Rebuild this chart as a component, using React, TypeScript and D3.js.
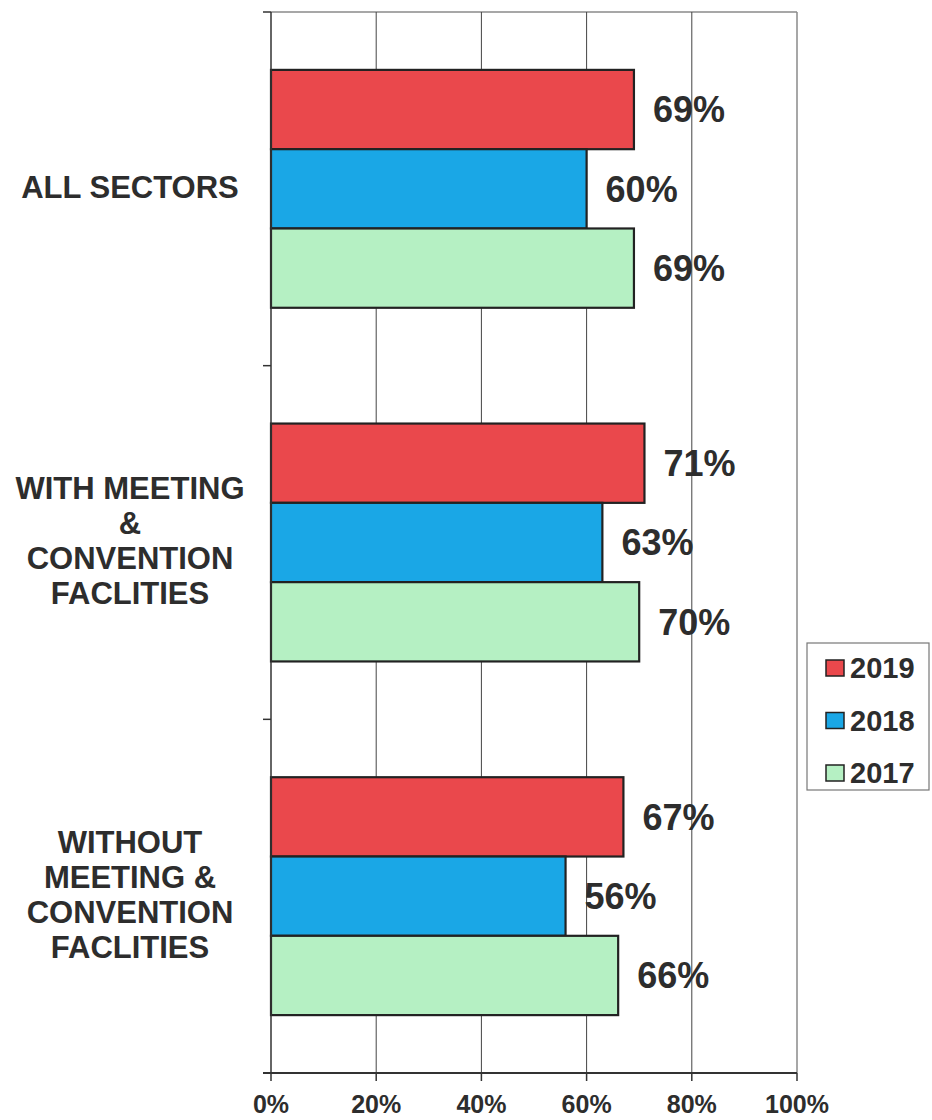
import React from "react";
import * as d3 from "d3";

const categories = [
  ["ALL SECTORS"],
  ["WITH MEETING", "&", "CONVENTION", "FACLITIES"],
  ["WITHOUT", "MEETING &", "CONVENTION", "FACLITIES"],
];
const categoryKeys = ["all", "with", "without"];
const seriesNames = ["2019", "2018", "2017"];
const values2019 = [69, 71, 67];
const values2018 = [60, 63, 56];
const values2017 = [69, 70, 66];
const xTicks = [0, 20, 40, 60, 80, 100];
const colors = ["#EA484C", "#1AA7E6", "#B5F0C3"];

export default function App() {
  const W = 932, H = 1120;
  const left = 271, right = 797, top = 12, bottom = 1073;
  const x = d3.scaleLinear().domain([0, 100]).range([left, right]);
  const y = d3.scaleBand<string>().domain(categoryKeys).range([top, bottom]).paddingInner(0).paddingOuter(0);
  const inner = d3.scaleBand<string>().domain(seriesNames).range([0, y.bandwidth()]).paddingInner(0).paddingOuter(0.73);
  const series = [values2019, values2018, values2017];
  const font = "Arial, 'Liberation Sans', Helvetica, sans-serif";
  const txt = "#2d2d2d";
  return (
    <svg width={W} height={H} style={{ position: "absolute", left: 0, top: 0, background: "#fff" }} fontFamily={font}>
      <rect x={0} y={0} width={W} height={H} fill="#fff" />
      {/* plot border */}
      <line x1={left} x2={right} y1={top} y2={top} stroke="#8a8a8a" strokeWidth={1.5} />
      <line x1={right} x2={right} y1={top} y2={bottom} stroke="#8a8a8a" strokeWidth={1.5} />
      {/* gridlines */}
      {xTicks.slice(1, -1).map((t) => (
        <line key={t} x1={x(t)} x2={x(t)} y1={top} y2={bottom} stroke="#444" strokeWidth={1} />
      ))}
      {/* bars */}
      {categoryKeys.map((c, ci) =>
        seriesNames.map((s, si) => {
          const v = series[si][ci];
          const by = (y(c) as number) + (inner(s) as number);
          const bh = inner.bandwidth();
          return (
            <g key={c + s}>
              <rect x={x(0)} y={by} width={x(v) - x(0)} height={bh} fill={colors[si]} stroke="#222" strokeWidth={2.2} />
              <text x={x(v) + 19} y={by + bh / 2} dy="0.36em" fontSize={36} fontWeight="bold" fill={txt}>
                {v}%
              </text>
            </g>
          );
        })
      )}
      {/* axes */}
      <line x1={left} x2={left} y1={top} y2={bottom} stroke="#333" strokeWidth={1.5} />
      <line x1={left - 8} x2={right} y1={bottom} y2={bottom} stroke="#333" strokeWidth={1.8} />
      {[top, ...categoryKeys.map((c) => (y(c) as number) + y.bandwidth())].map((yy, i) => (
        <line key={i} x1={left - 8} x2={left} y1={yy} y2={yy} stroke="#333" strokeWidth={1.5} />
      ))}
      {xTicks.map((t) => (
        <g key={t}>
          <line x1={x(t)} x2={x(t)} y1={bottom} y2={bottom + 8} stroke="#333" strokeWidth={1.5} />
          <text x={x(t)} y={bottom + 31} dy="0.36em" textAnchor="middle" fontSize={25} fontWeight="bold" fill={txt}>
            {t}%
          </text>
        </g>
      ))}
      {/* category labels */}
      {categoryKeys.map((c, ci) => {
        const lines = categories[ci];
        const cy = (y(c) as number) + y.bandwidth() / 2 - 2;
        const lh = 35;
        return (
          <text key={c} textAnchor="middle" fontSize={31} fontWeight="bold" fill={txt}>
            {lines.map((l, li) => (
              <tspan key={li} x={130} y={cy + (li - (lines.length - 1) / 2) * lh} dy="0.36em">
                {l}
              </tspan>
            ))}
          </text>
        );
      })}
      {/* legend */}
      <rect x={807} y={643} width={122} height={147} fill="#fff" stroke="#777" strokeWidth={1.2} />
      {seriesNames.map((s, si) => {
        const ly = 668 + si * 52.5;
        return (
          <g key={s}>
            <rect x={826} y={ly - 8} width={18} height={16} fill={colors[si]} stroke="#222" strokeWidth={1.5} />
            <text x={850} y={ly} dy="0.36em" fontSize={29} fontWeight="bold" fill={txt}>
              {s}
            </text>
          </g>
        );
      })}
    </svg>
  );
}
